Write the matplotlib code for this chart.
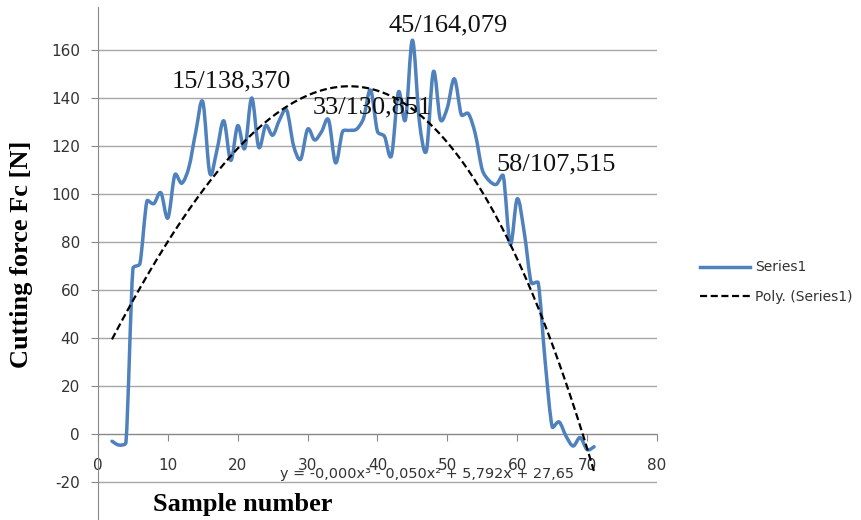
import numpy as np
import matplotlib
matplotlib.use("Agg")
import matplotlib.pyplot as plt
from matplotlib.path import Path
from matplotlib.patches import PathPatch
from matplotlib.lines import Line2D

plt.rcParams["axes.unicode_minus"] = False

# sample number / cutting force Fc [N]
samples = list(range(2, 72))
force = [-3, -4.6, -3.5, 69, 71, 97, 96, 100.5, 90, 108,
         104.5, 111, 126, 138.37, 108.7, 118, 130.5, 114, 128.5, 119,
         140, 119.5, 128.5, 124.5, 131, 135, 120, 114.5, 127, 122.5,
         126, 130.851, 113, 126, 126.5, 127, 131.5, 143.3, 126, 124,
         116, 142.5, 131, 164.079, 130, 118, 151, 131, 136, 148,
         133, 133.5, 125, 110, 105.5, 104, 107.515, 79, 98, 84,
         63, 63, 30, 3, 5, -1, -5, -1.5, -6.5, -5.3]

label_samples = [15, 33, 45, 58]
label_texts = ["15/138,370", "33/130,851", "45/164,079", "58/107,515"]
label_offsets = [(-31, 14), (-16, 7), (-24, 9), (-7, 6)]  # pixels

equation = "y = -0,000x³ - 0,050x² + 5,792x + 27,65"

blue = "#4f81bd"
grid_col = "#a6a6a6"

fig = plt.figure(figsize=(8.62, 5.2), dpi=100)
ax = fig.add_axes([98 / 862, 0, (657 - 98) / 862, 513 / 520])
ax.set_xlim(0, 80)
ax.set_ylim((434 - 520) / 2.4, (434 - 7) / 2.4)

# smoothed line: catmull-rom bezier through the points (in pixel space),
# handles clamped to the segment length so short steps don't overshoot
px = ax.transData.transform(np.column_stack([samples, force]))
n = len(px)


def handle(vec, seg):
    ln = np.hypot(*vec)
    lim = 0.4 * seg
    return vec * (lim / ln) if ln > lim else vec


verts = [px[0]]
codes = [Path.MOVETO]
for i in range(n - 1):
    seg = np.hypot(*(px[i + 1] - px[i]))
    h1 = handle((px[i + 1] - px[max(i - 1, 0)]) / 6, seg)
    h2 = handle((px[min(i + 2, n - 1)] - px[i]) / 6, seg)
    verts += [px[i] + h1, px[i + 1] - h2, px[i + 1]]
    codes += [Path.CURVE4] * 3
verts = ax.transData.inverted().transform(np.array(verts))
ax.add_patch(PathPatch(Path(verts, codes), fill=False, edgecolor=blue,
                       lw=2.5, capstyle="round", joinstyle="round", zorder=3))

# polynomial trend (order 3)
coef = np.polyfit(samples, force, 3)
xs = np.linspace(samples[0], samples[-1], 300)
ax.plot(xs, np.polyval(coef, xs), color="black", lw=1.6,
        linestyle=(0, (3.2, 1.6)), zorder=4)

for s, t, off in zip(label_samples, label_texts, label_offsets):
    ax.annotate(t, (s, force[samples.index(s)]), xytext=off,
                textcoords="offset pixels", ha="left", va="baseline",
                family="Liberation Serif", fontsize=19, color="#111111", zorder=5)

ax.set_yticks(range(-20, 161, 20))
ax.set_xticks(range(0, 81, 10))
ax.yaxis.grid(True, color=grid_col, lw=1)
ax.set_axisbelow(True)
for side in ["top", "right"]:
    ax.spines[side].set_visible(False)
ax.spines["bottom"].set_position(("data", 0))
ax.spines["left"].set_color("#888888")
ax.spines["bottom"].set_color("#888888")
ax.tick_params(axis="y", direction="out", length=5, pad=8, color="#888888",
               labelsize=11, labelcolor="#333333")
ax.tick_params(axis="x", direction="out", length=5, pad=12, color="#888888",
               labelsize=11, labelcolor="#333333")

fig.text(22 / 862, 1 - 254 / 520, "Cutting force Fc [N]", rotation=90,
         ha="center", va="center", family="Liberation Serif",
         fontweight="bold", fontsize=19)
fig.text(153 / 862, 1 - 505 / 520, "Sample number", ha="left", va="center",
         family="Liberation Serif", fontweight="bold", fontsize=19)
fig.text(280 / 862, 1 - 478 / 520, equation, ha="left", va="baseline",
         fontsize=10.4, color="#333333")

handles = [Line2D([], [], color=blue, lw=2.5),
           Line2D([], [], color="black", lw=1.6, linestyle=(0, (3.2, 1.6)))]
fig.legend(handles, ["Series1", "Poly. (Series1)"], loc="center left",
           bbox_to_anchor=(688 / 862, 1 - 282 / 520), frameon=False,
           fontsize=10, handlelength=3.6, handletextpad=0.3,
           labelspacing=1.1, labelcolor="#333333")

fig.savefig("out.png", dpi=100)
